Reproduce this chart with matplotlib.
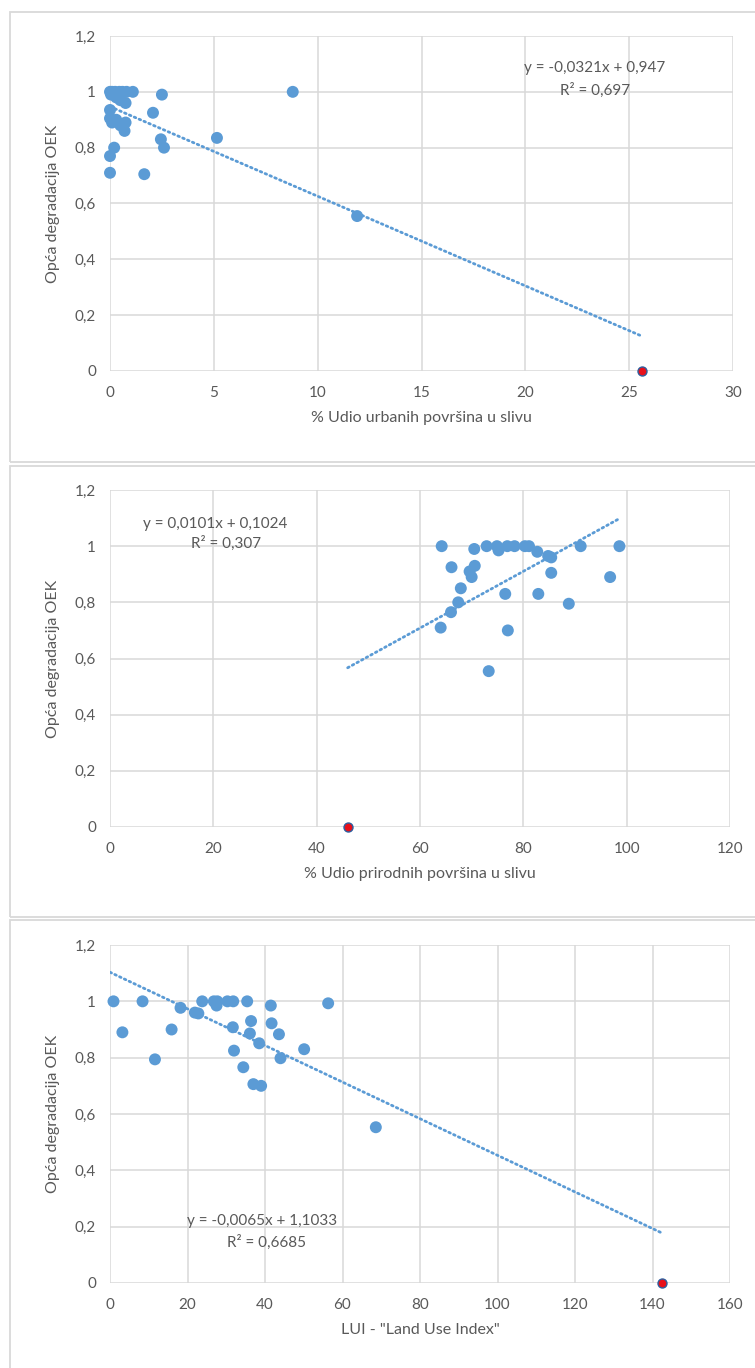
"""
Scatter plots of overall degradation (OEK) against catchment land-use pressure.

Three stacked panels, each with a linear trend line and its equation:
- share of urban area in the catchment
- share of natural area in the catchment
- Land Use Index (LUI)

Output: out.png
"""

import matplotlib.pyplot as plt
from matplotlib.patches import Rectangle
from matplotlib.ticker import FuncFormatter

# Panel 1: % urban area vs OEK
URBAN_X = [0, 0.1, 0.25, 0.45, 0.6, 0.8, 1.1, 0.05, 0.3, 0.5, 0.75, 2.5, 8.8,
           0, 0, 0.1, 0.3, 0.5, 0.75, 0.7, 2.07, 2.45, 2.6, 5.15, 0.2, 0, 0,
           1.65, 11.9]
URBAN_Y = [1.0, 1.0, 1.0, 1.0, 1.0, 1.0, 1.0, 0.99, 0.98, 0.97, 0.96, 0.99, 1.0,
           0.935, 0.905, 0.89, 0.9, 0.88, 0.89, 0.86, 0.925, 0.83, 0.80, 0.835,
           0.80, 0.77, 0.71, 0.705, 0.555]
URBAN_OUT = (25.6, 0.0)

# Panel 2: % natural area vs OEK
NATURAL_X = [64.2, 70.5, 72.9, 74.9, 75.2, 76.9, 78.3, 80.3, 81.1, 82.7, 84.8,
             85.4, 91.1, 98.6, 66.1, 70.6, 69.6, 70.0, 85.4, 96.8, 67.9, 76.5,
             82.9, 88.8, 67.4, 66.0, 64.0, 77.0, 73.3]
NATURAL_Y = [1.0, 0.99, 1.0, 1.0, 0.985, 1.0, 1.0, 1.0, 1.0, 0.98, 0.965,
             0.96, 1.0, 1.0, 0.925, 0.93, 0.91, 0.89, 0.905, 0.89, 0.85, 0.83,
             0.83, 0.795, 0.80, 0.765, 0.71, 0.70, 0.555]
NATURAL_OUT = (46.0, 0.0)

# Panel 3: LUI vs OEK
LUI_X = [0.9, 8.4, 18.2, 21.9, 22.8, 23.8, 26.8, 27.7, 27.5, 30.3, 31.8, 35.4,
         41.5, 56.3, 3.2, 15.9, 31.7, 36.4, 36.1, 41.7, 43.6, 38.5, 32.0, 50.1,
         11.6, 44.0, 34.4, 37.0, 39.0, 68.6]
LUI_Y = [1.0, 1.0, 0.977, 0.96, 0.957, 1.0, 1.0, 1.0, 0.985, 1.0, 1.0, 1.0,
         0.985, 0.993, 0.89, 0.90, 0.908, 0.93, 0.886, 0.922, 0.883, 0.851,
         0.825, 0.83, 0.794, 0.798, 0.766, 0.706, 0.70, 0.553]
LUI_OUT = (142.5, 0.0)

# Trend line coefficients (slope, intercept) and R²
URBAN_FIT = (-0.0321, 0.947, 0.697)
NATURAL_FIT = (0.0101, 0.1024, 0.307)
LUI_FIT = (-0.0065, 1.1033, 0.6685)

X_TICKS_URBAN = [0, 5, 10, 15, 20, 25, 30]
X_TICKS_NATURAL = [0, 20, 40, 60, 80, 100, 120]
X_TICKS_LUI = [0, 20, 40, 60, 80, 100, 120, 140, 160]
Y_TICKS = [0, 0.2, 0.4, 0.6, 0.8, 1.0, 1.2]

X_LABELS = ["% Udio urbanih površina u slivu",
            "% Udio prirodnih površina u slivu",
            'LUI - "Land Use Index"']
Y_LABEL = "Opća degradacija OEK"

BLUE = "#5B9BD5"
GRID = "#D9D9D9"
TEXT = "#595959"

W, H = 755, 1368

plt.rcParams["font.family"] = ["Lato", "DejaVu Sans"]


def _comma(v, _pos=None):
    return f"{v:g}".replace(".", ",")


def _fmt_num(v):
    return f"{v}".replace(".", ",")


def _equation(slope, intercept):
    sign = "-" if slope < 0 else ""
    return f"y = {sign}{_fmt_num(abs(slope))}x + {_fmt_num(intercept)}"


def _panel(fig, box, xs, ys, out, fit, xticks, xlabel, eq_pos, r2_pos, fit_from):
    # box = (left, top, right, bottom) in pixels from top-left
    left, top, right, bottom = box
    ax = fig.add_axes([left / W, 1 - bottom / H, (right - left) / W, (bottom - top) / H])
    ax.set_xlim(xticks[0], xticks[-1])
    ax.set_ylim(0, 1.2)
    ax.set_xticks(xticks)
    ax.set_yticks(Y_TICKS)
    ax.yaxis.set_major_formatter(FuncFormatter(_comma))
    ax.grid(True, color=GRID, linewidth=1.1)
    ax.set_axisbelow(True)
    for sp in ax.spines.values():
        sp.set_visible(False)
    ax.tick_params(length=0, labelsize=11, labelcolor=TEXT, pad=10)
    ax.tick_params(axis="x", pad=11)

    # trend line over the range of the data
    slope, intercept, r2 = fit
    x1 = max(list(xs) + [out[0]])
    x0 = min(list(xs) + [out[0]]) if fit_from is None else fit_from
    ax.plot([x0, x1], [slope * x0 + intercept, slope * x1 + intercept],
            color=BLUE, linewidth=2.0, linestyle=(0, (0.6, 1.3)),
            dash_capstyle="round", zorder=2)

    ax.scatter(xs, ys, s=74, color=BLUE, edgecolors="none", zorder=3, clip_on=False)
    ax.scatter([out[0]], [out[1]], s=42, color="#E8101A", edgecolors="#2E5E9E",
               linewidths=1.0, zorder=4, clip_on=False)

    ax.text(eq_pos[0], eq_pos[1], _equation(slope, intercept), transform=ax.transAxes,
            ha="center", va="center", fontsize=11, color=TEXT)
    ax.text(r2_pos[0], r2_pos[1], f"R² = {_fmt_num(r2)}", transform=ax.transAxes,
            ha="center", va="center", fontsize=11, color=TEXT)

    ax.set_xlabel(xlabel, fontsize=11.5, color=TEXT, labelpad=8)
    ax.set_ylabel(Y_LABEL, fontsize=11.5, color=TEXT, labelpad=11)
    return ax


def main() -> None:
    fig = plt.figure(figsize=(W / 100, H / 100), dpi=100)

    # chart area frames
    for top, bottom in [(12, 462), (466, 917), (920, 1375)]:
        fig.patches.append(Rectangle((10 / W, 1 - bottom / H), 760 / W, (bottom - top) / H,
                                     transform=fig.transFigure, fill=False,
                                     edgecolor=GRID, linewidth=1.3))

    _panel(fig, (110, 36, 733, 371), URBAN_X, URBAN_Y, URBAN_OUT, URBAN_FIT,
           X_TICKS_URBAN, X_LABELS[0], (0.778, 0.904), (0.778, 0.839), 0)
    _panel(fig, (110, 490, 730, 827), NATURAL_X, NATURAL_Y, NATURAL_OUT, NATURAL_FIT,
           X_TICKS_NATURAL, X_LABELS[1], (0.17, 0.899), (0.187, 0.843), None)
    _panel(fig, (110, 945, 730, 1283), LUI_X, LUI_Y, LUI_OUT, LUI_FIT,
           X_TICKS_LUI, X_LABELS[2], (0.245, 0.183), (0.253, 0.121), 0)

    fig.savefig("out.png", dpi=100)
    plt.close(fig)


if __name__ == "__main__":
    main()
